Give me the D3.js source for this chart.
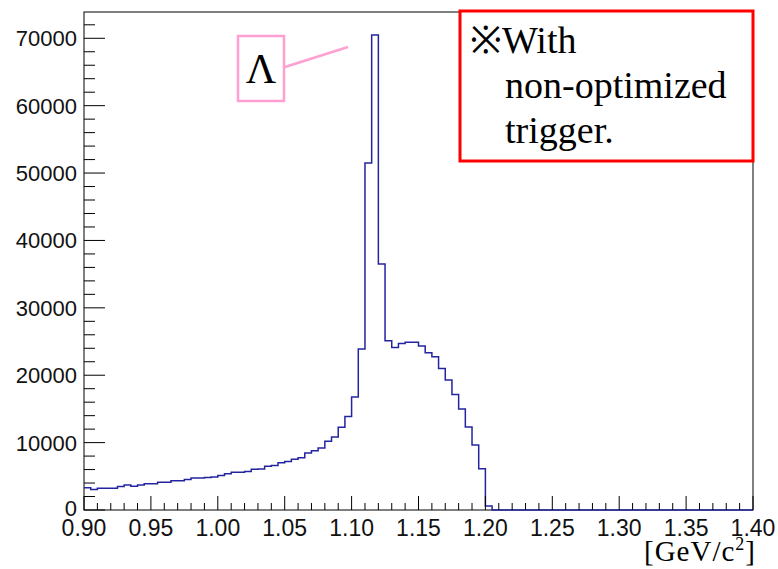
<!DOCTYPE html>
<html>
<head>
<meta charset="utf-8">
<script src="https://cdn.jsdelivr.net/npm/d3@7"></script>
<style>
  body { margin: 0; background: #fff; }
  svg { display: block; }
</style>
</head>
<body>
<svg></svg>
<script>
var width = 778;
var height = 569;

// histogram: 100 bins of 0.005 GeV/c^2 from 0.90 to 1.40
var binLow = 0.90;
var binWidth = 0.005;
var counts = [
  3290, 3040, 3240, 3240, 3240, 3490, 3700, 3540, 3720, 3880,
  3890, 4100, 4110, 4350, 4340, 4530, 4740, 4760, 4840, 4900,
  5120, 5370, 5600, 5620, 5700, 6050, 6100, 6500, 6600, 7000,
  7190, 7520, 7750, 8440, 8790, 9210, 10200, 10850, 12280, 13890,
  16770, 23890, 51500, 70500, 36500, 25100, 24100, 24700, 24900, 24900,
  24350, 23350, 22750, 21000, 19300, 17150, 15000, 12300, 9650, 6130,
  600, 0, 0, 0, 0, 0, 0, 0, 0, 0,
  0, 0, 0, 0, 0, 0, 0, 0, 0, 0,
  0, 0, 0, 0, 0, 0, 0, 0, 0, 0,
  0, 0, 0, 0, 0, 0, 0, 0, 0, 0
];
var xTicks = [0.90, 0.95, 1.00, 1.05, 1.10, 1.15, 1.20, 1.25, 1.30, 1.35, 1.40];
var yTicks = [0, 10000, 20000, 30000, 40000, 50000, 60000, 70000];
var xTitle = "[GeV/c";
var noteLines = ["\u203BWith", "non-optimized", "trigger."];
var peakLabel = "\u039B";

var margin = {left: 84, right: 25, top: 12, bottom: 59};

var x = d3.scaleLinear()
  .domain([0.90, 1.40])
  .range([margin.left, width - margin.right]);
var y = d3.scaleLinear()
  .domain([0, 73900])
  .range([height - margin.bottom, margin.top]);

var svg = d3.select("svg")
  .attr("width", width)
  .attr("height", height);

// frame
svg.append("rect")
  .attr("x", x(0.90))
  .attr("y", y(73900))
  .attr("width", x(1.40) - x(0.90))
  .attr("height", y(0) - y(73900))
  .attr("fill", "none")
  .attr("stroke", "#000")
  .attr("stroke-width", 1);

// histogram outline
var pts = [];
counts.forEach(function(c, i){
  var lo = binLow + i * binWidth;
  pts.push([x(lo), y(c)]);
  pts.push([x(lo + binWidth), y(c)]);
});
svg.append("path")
  .attr("d", d3.line()(pts))
  .attr("fill", "none")
  .attr("stroke", "#2424a0")
  .attr("stroke-width", 1.5);

// ticks (inward, ROOT style)
var minorX = d3.range(0, 51).map(function(i){ return 0.90 + i * 0.01; });
svg.append("g").selectAll("line")
  .data(minorX)
  .enter()
  .append("line")
  .attr("x1", function(d){ return x(d); })
  .attr("x2", function(d){ return x(d); })
  .attr("y1", y(0))
  .attr("y2", function(d, i){ return y(0) - (i % 5 == 0 ? 14 : 7); })
  .attr("stroke", "#000")
  .attr("stroke-width", 1);

var minorY = d3.range(0, 37).map(function(i){ return i * 2000; });
svg.append("g").selectAll("line")
  .data(minorY)
  .enter()
  .append("line")
  .attr("x1", x(0.90))
  .attr("x2", function(d, i){ return x(0.90) + (i % 5 == 0 ? 21 : 11); })
  .attr("y1", function(d){ return y(d); })
  .attr("y2", function(d){ return y(d); })
  .attr("stroke", "#000")
  .attr("stroke-width", 1);

// tick labels
svg.append("g").selectAll("text")
  .data(xTicks)
  .enter()
  .append("text")
  .attr("x", function(d){ return x(d); })
  .attr("y", 536)
  .attr("text-anchor", "middle")
  .attr("font-family", "Liberation Sans, Arial, sans-serif")
  .attr("font-size", 23)
  .attr("fill", "#111")
  .text(function(d){ return d3.format(".2f")(d); });

svg.append("g").selectAll("text")
  .data(yTicks)
  .enter()
  .append("text")
  .attr("x", 77)
  .attr("y", function(d){ return y(d) + (d == 0 ? 6 : 8); })
  .attr("text-anchor", "end")
  .attr("font-family", "Liberation Sans, Arial, sans-serif")
  .attr("font-size", 22)
  .attr("fill", "#111")
  .text(function(d){ return d; });

// axis title
var xt = svg.append("text")
  .attr("x", 756)
  .attr("y", 561)
  .attr("text-anchor", "end")
  .attr("font-family", "Liberation Serif, Times New Roman, serif")
  .attr("font-size", 29)
  .attr("letter-spacing", 1)
  .attr("fill", "#000");
xt.append("tspan").text(xTitle);
xt.append("tspan").attr("font-size", 18).attr("dy", -11).text("2");
xt.append("tspan").attr("dy", 11).text("]");

// Lambda annotation
svg.append("line")
  .attr("x1", 285).attr("y1", 67)
  .attr("x2", 348).attr("y2", 47)
  .attr("stroke", "#ff9fd2")
  .attr("stroke-width", 2.5);
svg.append("rect")
  .attr("x", 238).attr("y", 36)
  .attr("width", 46).attr("height", 65)
  .attr("fill", "#fff")
  .attr("stroke", "#ff9fd2")
  .attr("stroke-width", 2.5);
svg.append("text")
  .attr("x", 261).attr("y", 83)
  .attr("text-anchor", "middle")
  .attr("font-family", "Liberation Serif, Times New Roman, serif")
  .attr("font-size", 42)
  .attr("fill", "#000")
  .text(peakLabel);

// note box
svg.append("rect")
  .attr("x", 460).attr("y", 11)
  .attr("width", 293).attr("height", 150)
  .attr("fill", "#fff")
  .attr("stroke", "#f00")
  .attr("stroke-width", 3);
svg.append("g").selectAll("text")
  .data(noteLines)
  .enter()
  .append("text")
  .attr("x", function(d, i){ return i == 0 ? 470 : 505; })
  .attr("y", function(d, i){ return 53 + i * 45; })
  .attr("font-family", "Liberation Serif, Times New Roman, serif")
  .attr("font-size", 38)
  .attr("fill", "#000")
  .text(function(d){ return d; });
</script>
</body>
</html>
